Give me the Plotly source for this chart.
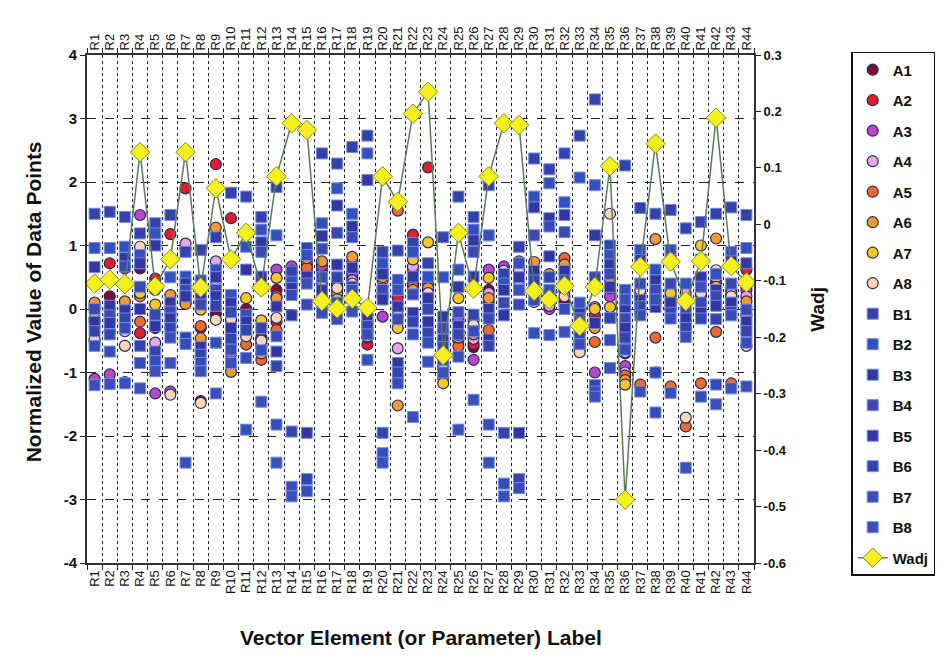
import plotly.graph_objects as go

labels = [f"R{i}" for i in range(1, 45)]

A1 = [0.0, 0.2, 0.0, 0.64, -0.3, -0.05, 0.1, -1.45, -0.08, -0.1, 0.0, -0.55, 0.3, 0.3, 0.6, 0.5, 0.4, 0.6, -0.3, 0.62, 0.1, 0.4, 0.2, -0.35, -0.2, -0.6, 0.3, 0.4, 0.6, 0.4, 0.1, 0.1, -0.3, -0.15, 0.45, -0.7, 0.1, 0.2, 0.15, -0.1, 0.2, 0.3, 0.15, 0.35]
A2 = [0.05, 0.72, 0.64, -0.38, 0.48, 1.18, 1.9, -0.3, 2.28, 1.43, -0.3, -0.45, -0.2, 0.5, 0.55, 0.6, 0.3, 0.5, -0.56, 0.55, 0.19, 1.17, 2.23, -0.5, -0.35, -0.55, 0.1, 0.45, 0.5, 0.3, 0.2, 0.55, -0.4, -0.1, 0.3, -0.6, -0.05, 0.1, 0.1, -0.2, 0.3, 0.4, 0.2, 0.62]
A3 = [-1.1, -1.03, -1.15, 1.48, -1.33, -1.3, 0.95, 0.1, 0.72, -0.7, -0.1, -0.6, 0.62, 0.67, 0.7, 0.68, 0.45, 0.55, -0.2, -0.12, 0.0, 0.6, 0.4, -0.9, -0.15, -0.8, 0.62, 0.67, 0.66, 0.5, 0.0, 0.3, -0.5, -1.0, 0.2, -0.9, 0.2, -1.0, 0.2, 0.1, 0.1, 0.45, 0.3, 0.3]
A4 = [-0.5, -0.1, -0.35, 0.3, -0.53, -0.3, 1.03, 0.3, 0.75, -0.2, -0.4, -0.48, 0.2, 0.55, 0.75, 0.45, 0.35, 0.45, -0.35, 0.45, -0.62, 0.67, 0.3, -0.7, -0.5, -0.47, 0.25, 0.55, 0.64, 0.55, 0.05, 0.63, -0.55, 0.03, 0.4, -1.0, 0.25, 0.3, 0.3, 0.25, 0.14, 0.5, 0.25, 0.2]
A5 = [-0.2, 0.0, -0.25, -0.2, 0.35, 0.0, 0.15, -0.27, 0.35, -0.4, -0.56, -0.8, -0.33, 0.45, 0.65, 0.4, 0.2, 0.75, -0.45, 0.33, 1.55, 0.36, 0.5, -0.85, -0.59, -0.3, -0.33, 0.35, 0.55, 0.25, 0.25, 0.8, -0.64, -0.52, 0.33, -1.05, -1.19, -0.45, -1.22, -1.85, -1.17, -0.36, -1.17, 0.0]
A6 = [0.1, -0.2, 0.12, 0.2, 0.3, 0.22, 0.08, -0.46, 1.28, -0.99, -0.3, -0.7, 0.17, 0.4, 0.8, 0.75, 0.25, 0.82, -0.25, 0.5, -1.52, 0.3, 0.33, -1.08, -0.45, -0.4, 0.17, 0.5, 0.75, 0.74, 0.55, 0.7, -0.6, -0.3, 0.49, -1.12, 0.0, 1.1, 0.05, -0.3, 0.4, 1.11, 0.05, 0.12]
A7 = [-0.15, -0.15, -0.1, 0.25, 0.07, -0.2, 0.2, -0.01, 0.45, 0.05, 0.17, -0.18, 0.49, 0.6, 0.5, 0.2, 0.15, 0.3, -0.43, 0.2, -0.3, 0.78, 1.05, -1.17, 0.17, -0.17, 0.49, 0.3, 0.45, 0.11, 0.2, 0.4, -0.25, 0.0, 0.03, -1.19, 0.15, 0.25, 0.25, 0.1, 1.0, 0.35, 0.1, -0.1]
A8 = [-0.48, -0.35, -0.58, 0.98, 0.4, -1.35, 0.25, -1.48, -0.17, -0.16, -0.43, -0.5, -0.14, 0.35, 0.45, 0.35, 0.33, 0.4, -0.1, 0.25, -0.1, 0.5, 0.25, -0.95, -0.41, -0.25, -0.12, 0.6, 0.62, 0.35, 0.15, 0.2, -0.68, -0.2, 1.5, -0.68, 0.3, 0.15, 0.0, -1.71, 0.25, 0.61, 0.2, -0.58]

B1 = [1.5, 1.53, 1.45, 1.19, 1.35, 1.48, 0.9, 0.93, 1.13, 1.83, 1.77, 1.45, 1.92, 0.59, 0.96, 2.45, 2.29, 2.55, 2.73, 0.9, 0.92, 1.04, 0.72, 1.13, 1.77, 1.45, 1.95, 0.55, 0.98, 2.37, 2.2, 2.45, 2.73, 3.3, 1.0, 2.26, 1.59, 1.5, 1.56, 1.27, 1.37, 1.5, 1.6, 1.48]
B2 = [0.96, 0.96, 0.98, 0.85, 1.19, 0.5, 0.51, 0.45, 0.62, 0.22, 0.98, 1.25, 1.16, 0.43, 0.85, 1.35, 1.9, 1.5, 2.45, 0.72, 0.46, 0.9, 0.51, 0.5, 0.62, 1.25, 1.16, 0.4, 0.72, 1.77, 1.98, 1.68, 2.07, 1.95, 0.85, 0.3, 0.93, 0.62, 0.93, 0.4, 0.78, 0.55, 0.9, 0.96]
B3 = [0.66, 0.05, 0.8, 0.72, 1.0, 0.1, 0.4, 0.2, 0.5, 0.09, 0.62, 1.05, 0.04, 0.33, 0.51, 1.15, 1.63, 1.3, 2.03, 0.55, 0.04, 0.51, 0.17, -0.12, 0.35, 1.08, 0.0, 0.3, 0.5, 1.6, 1.43, 1.48, 0.0, 1.16, 0.7, 0.03, 0.77, 0.45, 0.77, 0.14, 0.5, 0.3, 0.75, 0.72]
B4 = [0.0, -0.1, 0.67, 0.35, -0.09, -0.04, 0.3, 0.07, 0.3, -0.05, -0.09, 0.9, -0.43, 0.22, 0.07, 0.95, 1.2, 1.13, 0.0, 0.3, -0.16, 0.23, 0.0, -0.3, -0.05, 0.9, -0.15, 0.1, 0.07, 1.16, 1.3, 1.21, -0.15, 0.5, 0.55, -0.15, 0.4, 0.3, 0.4, 0.0, 0.1, 0.2, 0.4, -0.01]
B5 = [-0.2, -0.22, -0.02, 0.0, -0.27, -0.15, 0.2, -0.6, 0.2, -0.3, -0.2, 0.51, -0.67, -0.1, -1.95, 0.3, 0.7, 0.65, -0.15, 0.15, -0.85, -0.06, -0.2, -0.48, -0.27, 0.51, -0.48, -0.1, -1.95, 0.6, 0.83, 0.6, -0.3, -0.22, 0.35, -0.3, 0.14, 0.03, 0.1, -0.15, -0.06, 0.05, 0.1, -0.2]
B6 = [-0.35, -0.4, -0.15, -0.58, -0.67, -0.3, -0.45, -0.72, 0.05, -0.47, -0.33, -0.3, -0.9, -1.93, -2.68, 0.1, 0.5, 0.35, -0.27, -1.95, -1.0, -0.2, -0.38, -0.6, -0.4, -0.09, -0.58, -1.95, -2.68, 0.45, 0.5, 0.45, -0.45, -1.2, -0.14, -0.45, 0.04, -1.0, -0.06, -0.3, -0.15, -0.16, -0.05, -0.35]
B7 = [-0.58, -0.67, -0.3, -0.85, -0.82, -0.45, -0.55, -0.85, -0.53, -0.64, -0.77, -0.65, -1.82, -2.8, -2.87, -0.06, 0.1, 0.3, -0.4, -2.27, -1.17, -0.4, -0.53, -0.8, -0.75, -0.35, -1.82, -2.75, -2.82, 0.14, 0.3, 0.0, -0.55, -1.3, -0.49, -0.64, -0.1, -1.63, -0.15, -0.44, -1.38, -1.19, -0.1, -0.53]
B8 = [-1.2, -1.18, -1.17, -1.25, -0.98, -0.85, -2.42, -0.98, -1.33, -0.85, -1.9, -1.46, -2.42, -2.95, 0.4, 0.5, -0.16, -0.04, -0.8, -2.42, 0.3, -1.7, -0.83, -1.0, -1.9, -1.43, -2.42, -2.95, 0.3, -0.38, -0.41, -0.36, 0.1, -1.38, -0.93, 0.15, -1.3, 0.15, -1.32, -2.5, 0.35, -1.5, -1.25, -1.22]

Wadj = [-0.105, -0.098, -0.106, 0.128, -0.11, -0.062, 0.128, -0.112, 0.064, -0.062,
        -0.015, -0.112, 0.085, 0.179, 0.167, -0.136, -0.149, -0.132, -0.148, 0.085,
        0.04, 0.196, 0.235, -0.232, -0.015, -0.114, 0.085, 0.179, 0.176, -0.118,
        -0.133, -0.109, -0.18, -0.111, 0.103, -0.488, -0.075, 0.143, -0.066, -0.136,
        -0.065, 0.189, -0.074, -0.103]

left_ticks = [4, 3, 2, 1, 0, -1, -2, -3, -4]
left_ticktext = ["4", "3", "2", "1", "0", "-1", "-2", "-3", "-4"]
right_ticks = [0.3, 0.2, 0.1, 0.0, -0.1, -0.2, -0.3, -0.4, -0.5, -0.6]
right_ticktext = ["0.3", "0.2", "0.1", "0", "-0.1", "-0.2", "-0.3", "-0.4", "-0.5", "-0.6"]

FONT = "Liberation Sans, Arial, sans-serif"

a_series = [("A1", A1, "#7a1030"), ("A2", A2, "#e21e2a"), ("A3", A3, "#b548c8"),
            ("A4", A4, "#e8a6e2"), ("A5", A5, "#f06a2c"), ("A6", A6, "#f4992e"),
            ("A7", A7, "#f6c820"), ("A8", A8, "#f8d6b6")]
b_series = [("B1", B1, "#3442aa"), ("B2", B2, "#3450bc"), ("B3", B3, "#3436a2"),
            ("B4", B4, "#3a48b0"), ("B5", B5, "#3434a2"), ("B6", B6, "#3444aa"),
            ("B7", B7, "#364cb8"), ("B8", B8, "#3a50b8")]

fig = go.Figure()
for name, vals, col in a_series:
    fig.add_trace(go.Scatter(
        x=labels, y=vals, name=name, mode="markers", legendgroup=name,
        marker=dict(symbol="circle", size=11, color=col,
                    line=dict(color="#2a2860", width=1.2))))
for name, vals, col in b_series:
    fig.add_trace(go.Scatter(
        x=labels, y=vals, name=name, mode="markers", legendgroup=name,
        marker=dict(symbol="square", size=11, color=col,
                    line=dict(color="#6f8ae8", width=1))))
fig.add_trace(go.Scatter(
    x=labels, y=Wadj, name="Wadj", mode="lines+markers", legendgroup="Wadj",
    xaxis="x2", yaxis="y2",
    line=dict(color="#5d7a5a", width=1.5),
    marker=dict(symbol="diamond", size=15, color="#f4f01e",
                line=dict(color="#8a8a20", width=1))))

axis_common = dict(
    type="category", categoryorder="array", categoryarray=labels,
    tickmode="array", tickvals=labels, ticktext=labels,
    tickson="boundaries", ticks="outside", ticklen=5, tickcolor="#222",
    tickangle=-90, tickfont=dict(family=FONT, size=13, color="#111"),
    showline=True, linecolor="#333", linewidth=2,
    range=[-0.5, 43.5],
)

fig.update_layout(
    width=946, height=660,
    margin=dict(l=87, r=191, t=55, b=97),
    paper_bgcolor="white", plot_bgcolor="white",
    font=dict(family=FONT, color="#111"),
    showlegend=True,
    legend=dict(x=1.144, y=1.006, xanchor="left", yanchor="top",
                bordercolor="#111", borderwidth=1.5, bgcolor="white",
                font=dict(family=FONT, size=15, weight="bold", color="#111"),
                tracegroupgap=8, itemwidth=30, maxheight=640),
    xaxis=dict(**axis_common, side="bottom",
               showgrid=True, gridcolor="#222", griddash="dot", gridwidth=1),
    xaxis2=dict(**axis_common, side="top", overlaying="x", matches="x",
                anchor="y", showgrid=False),
    yaxis=dict(range=[-4, 4], tickvals=left_ticks, ticktext=left_ticktext,
               showgrid=True, gridcolor="#222", griddash="dash", gridwidth=1,
               zeroline=False, ticks="outside", ticklen=5, tickcolor="#222",
               showline=True, linecolor="#333", linewidth=2,
               tickfont=dict(family=FONT, size=15, weight="bold", color="#111")),
    yaxis2=dict(range=[-0.6, 0.3], tickvals=right_ticks, ticktext=right_ticktext,
                overlaying="y", side="right", anchor="x", showgrid=False,
                zeroline=False, ticks="outside", ticklen=5, tickcolor="#222",
                showline=True, linecolor="#333", linewidth=2,
                tickfont=dict(family=FONT, size=13, weight="bold", color="#111")),
    annotations=[
        dict(text="Normalized Value of Data Points", xref="paper", yref="paper",
             x=-0.081, y=0.515, xanchor="center", yanchor="middle", textangle=-90,
             showarrow=False, font=dict(family=FONT, size=21, weight="bold", color="#111")),
        dict(text="Wadj", xref="paper", yref="paper",
             x=1.094, y=0.5, xanchor="center", yanchor="middle", textangle=-90,
             showarrow=False, font=dict(family=FONT, size=19, weight="bold", color="#111")),
        dict(text="Vector Element (or Parameter) Label", xref="paper", yref="paper",
             x=0.5, y=-0.146, xanchor="center", yanchor="middle",
             showarrow=False, font=dict(family=FONT, size=21, weight="bold", color="#111")),
    ],
)

fig.write_html("out.html")
